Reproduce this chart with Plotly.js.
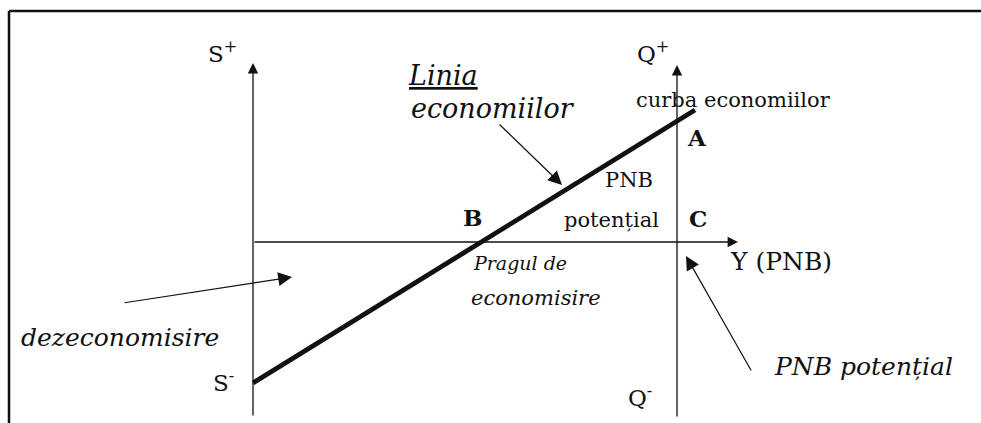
<!DOCTYPE html>
<html>
<head>
<meta charset="utf-8">
<script src="https://cdn.plot.ly/plotly-3.0.1.min.js"></script>
<style>
  html, body { margin: 0; padding: 0; background: #fff; }
  #chart { width: 981px; height: 423px; }
</style>
</head>
<body>
<div id="chart"></div>
<script>
// ── Pragul de economisire: linia economiilor între S și Q ─────────────────────
// coordonate: originea la intersecția axelor S și Y (PNB)

// linia economiilor (S- -> A)
const savingsX = [0, 44.2];
const savingsY = [-14.1, 13.2];

// axele: S (x = 0), Q (x = PNB potențial), Y orizontal
const sAxisY = [-17.5, 17.9];
const qAxisX = 42.4;
const qAxisY = [-17.6, 17.7];
const yAxisX = [0, 48.5];

// săgeți explicative [coadă x, coadă y, vârf x, vârf y]
const pointerLinia = [24.5, 11.9, 30.9, 5.7];
const pointerDezec = [-13.0, -6.1, 3.9, -3.5];
const pointerPotential = [49.9, -13.0, 43.3, -1.4];

// etichete
const uprightText = ['S<sup>+</sup>', 'Q<sup>+</sup>', 'S<sup>-</sup>', 'Q<sup>-</sup>',
    'curba economiilor', 'PNB', 'potențial', 'Y (PNB)'];
const uprightX = [-3.1, 40.0, -3.0, 38.7, 48.0, 37.6, 35.8, 52.8];
const uprightY = [19.0, 19.0, -13.9, -15.4, 14.2, 6.2, 2.2, -1.9];
const uprightSize = [23, 23, 23, 23, 21, 21, 21, 25];

const boldText = ['A', 'B', 'C'];
const boldX = [44.4, 21.9, 44.5];
const boldY = [10.5, 2.5, 2.4];

const italicText = ['<u>Linia</u>', 'economiilor', 'Pragul de', 'economisire',
    'dezeconomisire', 'PNB potențial'];
const italicX = [19.0, 24.0, 26.7, 28.3, -13.3, 61.0];
const italicY = [16.7, 13.4, -2.1, -5.6, -9.5, -12.4];
const italicSize = [27, 27, 19, 21, 25, 25];

const SERIF = '"DejaVu Serif", "Liberation Serif", serif';

const annotations = [];

// axe cu săgeți
const axisArrow = (x0, y0, x1, y1) => ({
    x: x1, y: y1, ax: x0, ay: y0, xref: 'x', yref: 'y', axref: 'x', ayref: 'y',
    text: '', showarrow: true, arrowhead: 2, arrowsize: 1.6, arrowwidth: 1.3,
    arrowcolor: '#111', standoff: 0, startstandoff: 0,
});
annotations.push(axisArrow(0, sAxisY[0], 0, sAxisY[1]));
annotations.push(axisArrow(qAxisX, qAxisY[0], qAxisX, qAxisY[1]));
annotations.push(axisArrow(yAxisX[0], 0, yAxisX[1], 0));

[pointerLinia, pointerDezec, pointerPotential].forEach(p => {
    const a = axisArrow(p[0], p[1], p[2], p[3]);
    a.arrowwidth = 1.2;
    a.arrowsize = 2.3;
    annotations.push(a);
});

uprightText.forEach((t, i) => annotations.push({
    x: uprightX[i], y: uprightY[i], xref: 'x', yref: 'y', text: t, showarrow: false,
    font: { family: SERIF, size: uprightSize[i], color: '#111' },
}));

boldText.forEach((t, i) => annotations.push({
    x: boldX[i], y: boldY[i], xref: 'x', yref: 'y', text: '<b>' + t + '</b>', showarrow: false,
    font: { family: SERIF, size: 23, color: '#111' },
}));

italicText.forEach((t, i) => annotations.push({
    x: italicX[i], y: italicY[i], xref: 'x', yref: 'y', text: '<i>' + t + '</i>', showarrow: false,
    font: { family: SERIF, size: italicSize[i], color: '#111' },
}));

const hidden = { visible: false, showgrid: false, zeroline: false, fixedrange: true };

Plotly.newPlot('chart', [
    {
        type: 'scatter', mode: 'lines',
        x: savingsX, y: savingsY,
        line: { color: '#111', width: 4.8 },
        hoverinfo: 'skip', showlegend: false,
    },
], {
    width: 981, height: 423,
    margin: { t: 0, r: 0, b: 0, l: 0 },
    paper_bgcolor: '#fff', plot_bgcolor: '#fff',
    xaxis: Object.assign({ range: [-25.3, 72.8] }, hidden),
    yaxis: Object.assign({ range: [-18.1, 24.2] }, hidden),
    annotations: annotations,
    shapes: [
        // ramă (sus și stânga)
        { type: 'line', xref: 'paper', yref: 'paper', x0: 9 / 981, x1: 1, y0: 1 - 11 / 423, y1: 1 - 11 / 423, line: { color: '#111', width: 2.5 } },
        { type: 'line', xref: 'paper', yref: 'paper', x0: 9 / 981, x1: 9 / 981, y0: 0, y1: 1 - 11 / 423, line: { color: '#111', width: 2.5 } },
    ],
}, { staticPlot: true });
</script>
</body>
</html>
